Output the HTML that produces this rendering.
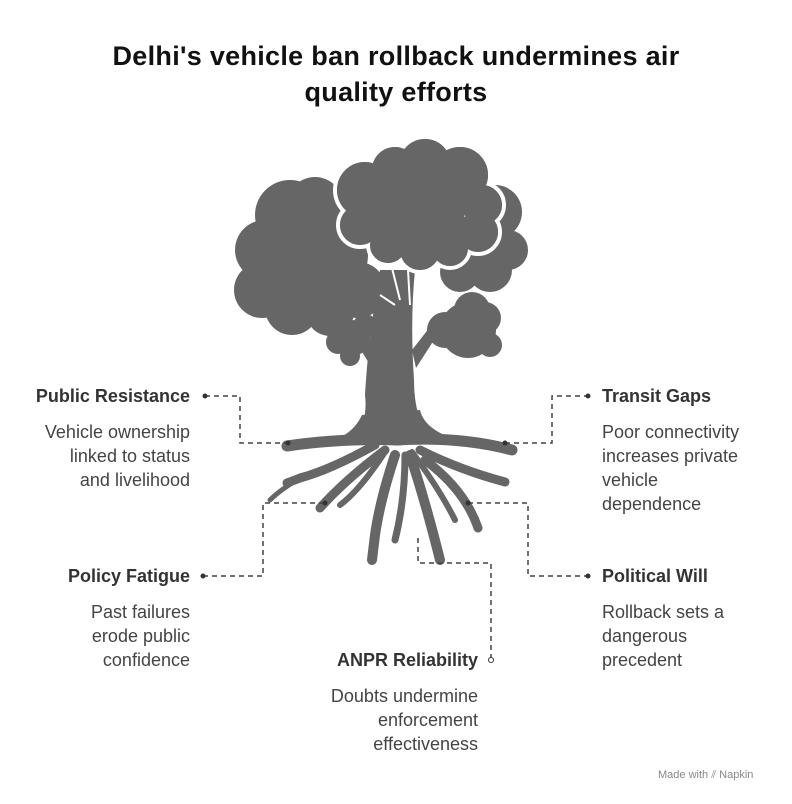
<!DOCTYPE html>
<html><head><meta charset="utf-8"><style>
body{margin:0;background:#fff;width:792px;height:804px;overflow:hidden;font-family:"Liberation Sans",sans-serif;}
.t{position:absolute;font-size:18px;color:#444;line-height:24px}
.h{font-weight:bold;color:#333}
</style></head><body>
<div style="position:absolute;left:0;top:38px;width:792px;text-align:center;font-weight:bold;font-size:27px;line-height:36px;color:#111;letter-spacing:0.3px">Delhi's vehicle ban rollback undermines air<br>quality efforts</div>
<svg width="792" height="804" style="position:absolute;left:0;top:0">
<g fill="#666">
<!-- trunk -->
<path d="M380 270 L415 270 Q410 320 414 380 Q414 420 432 440 L355 440 Q368 420 365 395 Q368 340 380 270Z"/>
<path d="M375 345 L355 320 L350 332 L370 365Z"/><path d="M412 350 L437 318 L443 326 L416 368Z"/>
<!-- left crown -->
<circle cx="290" cy="215" r="35"/><circle cx="265" cy="250" r="30"/><circle cx="262" cy="290" r="28"/><circle cx="292" cy="308" r="27"/><circle cx="330" cy="312" r="24"/><circle cx="358" cy="290" r="28"/><circle cx="320" cy="255" r="48"/><circle cx="315" cy="205" r="28"/><circle cx="350" cy="215" r="30"/>
<!-- right crown -->
<circle cx="495" cy="212" r="27"/><circle cx="508" cy="250" r="20"/><circle cx="490" cy="270" r="22"/><circle cx="460" cy="272" r="20"/><circle cx="470" cy="235" r="35"/>
<!-- small blobs -->
<circle cx="352" cy="338" r="18"/><circle cx="338" cy="342" r="12"/><circle cx="365" cy="326" r="12"/><circle cx="350" cy="356" r="10"/>
<circle cx="468" cy="330" r="28"/><circle cx="445" cy="330" r="18"/><circle cx="485" cy="318" r="16"/><circle cx="472" cy="310" r="18"/><circle cx="490" cy="345" r="12"/>
</g>
<!-- roots -->
<g fill="none" stroke="#666" stroke-linecap="round">
<path d="M400 440 Q340 438 287 446" stroke-width="11"/>
<path d="M395 440 Q460 436 512 450" stroke-width="11"/>
<path d="M375 445 Q330 470 300 478 Q295 480 287 483" stroke-width="9"/>
<path d="M385 450 Q345 480 320 508" stroke-width="9"/>
<path d="M395 455 Q380 500 375 535 L372 560" stroke-width="10"/>
<path d="M405 455 Q405 500 395 540" stroke-width="7"/>
<path d="M410 455 Q425 500 440 560" stroke-width="10"/>
<path d="M420 450 Q460 470 505 482" stroke-width="9"/>
<path d="M425 460 Q465 490 478 528" stroke-width="9"/>
<path d="M412 452 Q440 490 455 520" stroke-width="6"/>
<path d="M385 452 Q360 490 340 505" stroke-width="6"/>
<path d="M300 478 Q280 490 270 500" stroke-width="5"/>
</g>
<path d="M362 415 Q350 440 320 442 L465 442 Q425 432 420 410Z" fill="#666"/>
<!-- top crown with white outline -->
<g fill="#666" stroke="#fff" stroke-width="4">
<circle cx="365" cy="190" r="30"/><circle cx="395" cy="170" r="25"/><circle cx="425" cy="165" r="28"/><circle cx="460" cy="175" r="30"/><circle cx="482" cy="205" r="22"/><circle cx="478" cy="232" r="22"/><circle cx="450" cy="248" r="20"/><circle cx="420" cy="250" r="22"/><circle cx="388" cy="245" r="20"/><circle cx="360" cy="225" r="22"/>
</g>
<g fill="#666">
<circle cx="365" cy="190" r="28"/><circle cx="395" cy="170" r="23"/><circle cx="425" cy="165" r="26"/><circle cx="460" cy="175" r="28"/><circle cx="482" cy="205" r="20"/><circle cx="478" cy="232" r="20"/><circle cx="450" cy="248" r="18"/><circle cx="420" cy="250" r="20"/><circle cx="388" cy="245" r="18"/><circle cx="360" cy="225" r="20"/><circle cx="420" cy="210" r="45"/>
</g>
<path d="M380 295 L395 305 M392 268 L400 300 M408 270 L410 305" stroke="#fff" stroke-width="2" fill="none"/>
<g fill="none" stroke="#444" stroke-width="1.5" stroke-dasharray="5,4">
<path d="M205 396 H240 V443 H288"/>
<path d="M203 576 H263 V503 H325"/>
<path d="M418 538 V563 H491 V660"/>
<path d="M505 443 H552 V396 H588"/>
<path d="M468 503 H528 V576 H588"/>
</g>
<g fill="#333"><circle cx="205" cy="396" r="2.5"/><circle cx="203" cy="576" r="2.5"/><circle cx="588" cy="396" r="2.5"/><circle cx="588" cy="576" r="2.5"/><circle cx="288" cy="443" r="2.5"/><circle cx="505" cy="443" r="2.5"/><circle cx="325" cy="503" r="2.5"/><circle cx="468" cy="503" r="2.5"/></g>
<circle cx="491" cy="660" r="2.5" fill="#fff" stroke="#333"/>
</svg>
<div class="t h" style="right:602px;top:384px;text-align:right">Public Resistance</div>
<div class="t" style="right:602px;top:420px;text-align:right">Vehicle ownership<br>linked to status<br>and livelihood</div>
<div class="t h" style="right:602px;top:564px;text-align:right">Policy Fatigue</div>
<div class="t" style="right:602px;top:600px;text-align:right">Past failures<br>erode public<br>confidence</div>
<div class="t h" style="right:314px;top:648px;text-align:right">ANPR Reliability</div>
<div class="t" style="right:314px;top:684px;text-align:right">Doubts undermine<br>enforcement<br>effectiveness</div>
<div class="t h" style="left:602px;top:384px">Transit Gaps</div>
<div class="t" style="left:602px;top:420px">Poor connectivity<br>increases private<br>vehicle<br>dependence</div>
<div class="t h" style="left:602px;top:564px">Political Will</div>
<div class="t" style="left:602px;top:600px">Rollback sets a<br>dangerous<br>precedent</div>
<div style="position:absolute;left:658px;top:769px;font-size:11px;color:#888">Made with ⫽ Napkin</div>
</body></html>
